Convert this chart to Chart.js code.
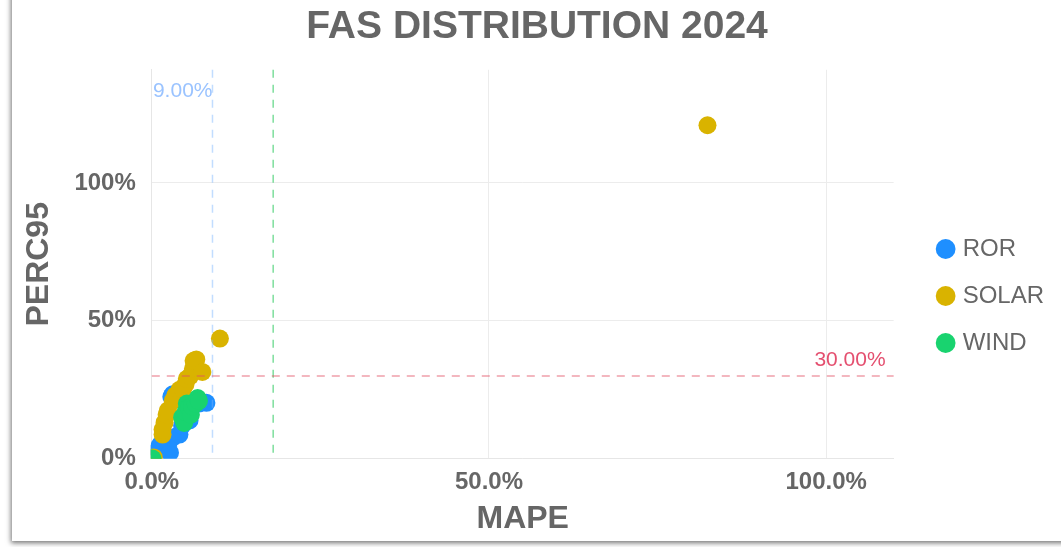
<!DOCTYPE html>
<html>
<head>
<meta charset="utf-8">
<script src="https://cdn.jsdelivr.net/npm/chart.js@4.4.1/dist/chart.umd.min.js"></script>
<style>
  html, body { margin: 0; padding: 0; background: #ffffff; overflow: hidden; }
  body { width: 1061px; height: 547px; position: relative; }
  #card { position: absolute; left: 12px; top: -20px; width: 1100px; height: 561px;
          background: #fff; box-shadow: -1px 2px 5px rgba(0,0,0,0.55); }
  #wrap { position: absolute; left: 12px; top: 0px; width: 1049px; height: 541px; }
</style>
</head>
<body>
<div id="card"></div>
<div id="wrap"><canvas id="c"></canvas></div>
<script>
// ---- data (fractions: x = MAPE, y = PERC95) ----
const seriesNames = ['ROR', 'SOLAR', 'WIND'];
const seriesColors = ['#1E8FFF', '#D9B300', '#19D36F'];

const rorPoints = [
  {x: 0.004, y: 0.020}, {x: 0.009, y: 0.033}, {x: 0.012, y: 0.050}, {x: 0.024, y: 0.048},
  {x: 0.027, y: 0.022}, {x: 0.031, y: 0.077}, {x: 0.041, y: 0.088}, {x: 0.052, y: 0.160},
  {x: 0.056, y: 0.139}, {x: 0.031, y: 0.234}, {x: 0.029, y: 0.225}, {x: 0.081, y: 0.203},
  {x: 0.060, y: 0.190}, {x: 0.070, y: 0.200}, {x: 0.045, y: 0.120}
];
const solarPoints = [
  {x: 0.003, y: 0.005}, {x: 0.016, y: 0.088}, {x: 0.016, y: 0.106}, {x: 0.019, y: 0.132},
  {x: 0.022, y: 0.160}, {x: 0.024, y: 0.176}, {x: 0.031, y: 0.210}, {x: 0.035, y: 0.230},
  {x: 0.041, y: 0.250}, {x: 0.046, y: 0.252}, {x: 0.050, y: 0.270}, {x: 0.052, y: 0.290},
  {x: 0.057, y: 0.300}, {x: 0.061, y: 0.326}, {x: 0.062, y: 0.355}, {x: 0.066, y: 0.360},
  {x: 0.075, y: 0.315}, {x: 0.101, y: 0.436}, {x: 0.824, y: 1.209}
];
const windPoints = [
  {x: 0.001, y: 0.001}, {x: 0.045, y: 0.150}, {x: 0.048, y: 0.130}, {x: 0.050, y: 0.170},
  {x: 0.052, y: 0.200}, {x: 0.055, y: 0.185}, {x: 0.058, y: 0.160}, {x: 0.060, y: 0.190},
  {x: 0.065, y: 0.200}, {x: 0.068, y: 0.220}, {x: 0.070, y: 0.210}
];
const seriesData = [rorPoints, solarPoints, windPoints];

// threshold lines
const mapeThreshold = 0.09;      // labelled "9.00%"
const mapeThreshold2 = 0.18;     // unlabelled green line
const percThreshold = 0.30;      // labelled "30.00%"

const xTickValues = [0, 0.5, 1.0];
const yTickValues = [0, 0.5, 1.0];

const grey = '#666666';
const FONT = '"Liberation Sans", Arial, sans-serif';

const thresholdPlugin = {
  id: 'thresholds',
  afterDatasetsDraw(chart) {
    const {ctx, chartArea: a, scales: {x, y}} = chart;
    ctx.save();
    ctx.lineWidth = 1.5;
    ctx.setLineDash([8, 7]);
    let px = x.getPixelForValue(mapeThreshold);
    ctx.strokeStyle = 'rgba(120,180,255,0.45)';
    ctx.beginPath(); ctx.moveTo(px, a.top); ctx.lineTo(px, a.bottom); ctx.stroke();
    let px2 = x.getPixelForValue(mapeThreshold2);
    ctx.strokeStyle = 'rgba(40,200,90,0.6)';
    ctx.beginPath(); ctx.moveTo(px2, a.top); ctx.lineTo(px2, a.bottom); ctx.stroke();
    let py = y.getPixelForValue(percThreshold);
    ctx.strokeStyle = 'rgba(225,80,100,0.55)';
    ctx.beginPath(); ctx.moveTo(a.left, py); ctx.lineTo(a.right, py); ctx.stroke();
    ctx.setLineDash([]);
    ctx.font = '21px ' + FONT;
    ctx.textBaseline = 'bottom';
    ctx.textAlign = 'right';
    ctx.fillStyle = 'rgba(120,175,255,0.75)';
    ctx.fillText((mapeThreshold * 100).toFixed(2) + '%', px, a.top + 32);
    ctx.fillStyle = 'rgba(225,60,95,0.9)';
    ctx.fillText((percThreshold * 100).toFixed(2) + '%', a.right - 8, py - 5);
    ctx.restore();
  }
};

new Chart(document.getElementById('c'), {
  type: 'scatter',
  data: {
    datasets: seriesNames.map((n, i) => ({
      label: n,
      data: seriesData[i],
      order: seriesNames.length - i,
      backgroundColor: seriesColors[i],
      borderColor: seriesColors[i],
      borderWidth: 0,
      pointRadius: 9,
      pointHoverRadius: 9,
      clip: {left: 1, top: 0, right: 0, bottom: 0}
    }))
  },
  options: {
    responsive: true,
    maintainAspectRatio: false,
    animation: false,
    layout: { padding: { left: 8, right: 7, top: 0, bottom: 3 } },
    plugins: {
      title: {
        display: true,
        text: 'FAS DISTRIBUTION 2024',
        color: grey,
        font: { family: FONT, size: 39, weight: 'bold' },
        padding: { top: 4, bottom: 19 }
      },
      legend: {
        position: 'right',
        align: 'center',
        title: { display: true, text: '', font: { size: 10 }, padding: { top: 42, bottom: 0 } },
        labels: {
          usePointStyle: true,
          pointStyle: 'circle',
          boxWidth: 10,
          boxHeight: 14,
          padding: 23,
          color: grey,
          font: { family: FONT, size: 24 },
          sort: (a, b) => a.datasetIndex - b.datasetIndex
        }
      },
      tooltip: { enabled: false }
    },
    scales: {
      x: {
        type: 'linear',
        min: 0, max: 1.1,
        afterBuildTicks: s => { s.ticks = xTickValues.map(v => ({value: v})); },
        ticks: {
          color: grey,
          padding: 9,
          font: { family: FONT, size: 24, weight: 'bold' },
          callback: v => (v * 100).toFixed(1) + '%',
          maxRotation: 0
        },
        grid: { color: '#ececec', drawTicks: false },
        border: { color: '#e6e6e6' },
        title: {
          display: true, text: 'MAPE', color: grey,
          font: { family: FONT, size: 32, weight: 'bold' },
          padding: { top: -6, bottom: 0 }
        }
      },
      y: {
        type: 'linear',
        min: 0, max: 1.41,
        afterBuildTicks: s => { s.ticks = yTickValues.map(v => ({value: v})); },
        ticks: {
          color: grey,
          padding: 16,
          font: { family: FONT, size: 24, weight: 'bold' },
          callback: v => Math.round(v * 100) + '%'
        },
        grid: { color: '#ececec', drawTicks: false },
        border: { color: '#e6e6e6' },
        title: {
          display: true, text: 'PERC95', color: grey,
          font: { family: FONT, size: 32, weight: 'bold' },
          padding: { top: 0, bottom: 0 }
        }
      },
      ySpacer: {
        type: 'linear',
        position: 'right',
        min: 0, max: 1,
        grid: { display: false, drawTicks: false },
        border: { display: false },
        ticks: { display: false },
        afterFit: s => { s.width = 24; s.paddingTop = 0; s.paddingBottom = 0; }
      }
    }
  },
  plugins: [thresholdPlugin]
});
</script>
</body>
</html>
